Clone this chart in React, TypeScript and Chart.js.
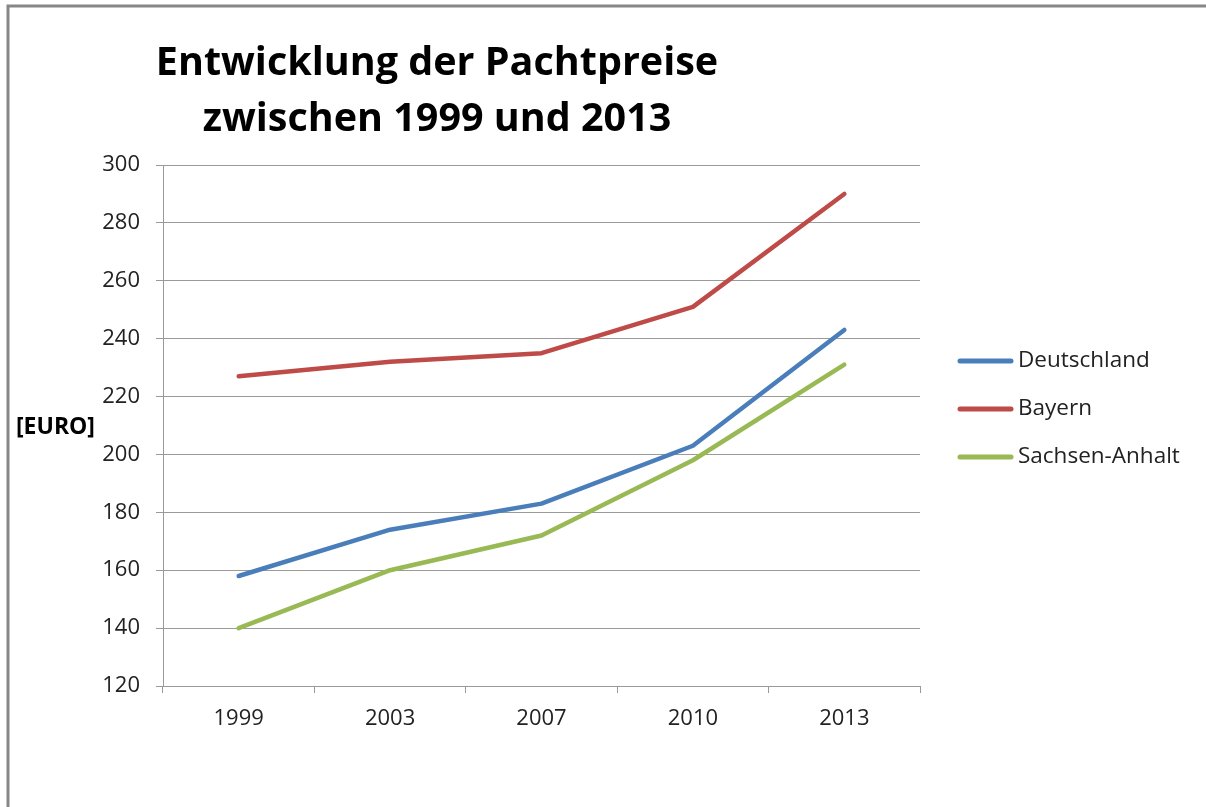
import React, { useEffect, useRef } from "react";
import { Chart, registerables } from "chart.js";

Chart.register(...registerables);

const years = ["1999", "2003", "2007", "2010", "2013"];
const deutschland = [158, 174, 183, 203, 243];
const bayern = [227, 232, 235, 251, 290];
const sachsenAnhalt = [140, 160, 172, 198, 231];
const seriesNames = ["Deutschland", "Bayern", "Sachsen-Anhalt"];
const seriesColors = ["#4A7EBB", "#BE4B48", "#98B954"];
const titleLines = ["Entwicklung der Pachtpreise", "zwischen 1999 und 2013"];
const yAxisTitle = "[EURO]";
const yMin = 120;
const yMax = 300;
const yStep = 20;

const FONT = "'Open Sans', 'DejaVu Sans', sans-serif";
const TEXT = "#222222";
const GRID = "#9a9a9a";

const decorPlugin = {
  id: "decor",
  beforeDraw(chart: any) {
    const ctx = chart.ctx;
    ctx.save();
    ctx.fillStyle = "#ffffff";
    ctx.fillRect(0, 0, chart.width, chart.height);
    ctx.strokeStyle = "#878787";
    ctx.lineWidth = 3;
    ctx.strokeRect(8, 6, chart.width + 50, chart.height + 50);
    ctx.restore();
  },
  afterDraw(chart: any) {
    const ctx = chart.ctx;
    ctx.save();
    // title
    ctx.fillStyle = "#000000";
    ctx.font = `bold 39.5px ${FONT}`;
    ctx.textAlign = "center";
    ctx.textBaseline = "alphabetic";
    titleLines.forEach((t, i) => ctx.fillText(t, 437, 75 + i * 56));
    // y axis title
    ctx.font = `bold 23px ${FONT}`;
    ctx.textAlign = "left";
    ctx.textBaseline = "middle";
    ctx.fillText(yAxisTitle, 16, 427);
    // legend
    ctx.font = `22.5px ${FONT}`;
    chart.data.datasets.forEach((ds: any, i: number) => {
      const y = 361 + i * 48;
      ctx.strokeStyle = ds.borderColor;
      ctx.lineWidth = 5;
      ctx.lineCap = "round";
      ctx.beginPath();
      ctx.moveTo(960, y);
      ctx.lineTo(1011, y);
      ctx.stroke();
      ctx.fillStyle = TEXT;
      ctx.textBaseline = "middle";
      ctx.fillText(ds.label, 1018, y);
    });
    ctx.restore();
  },
};

export default function App() {
  const ref = useRef<HTMLCanvasElement | null>(null);
  useEffect(() => {
    if (!ref.current) return;
    const series = [deutschland, bayern, sachsenAnhalt];
    const chart = new Chart(ref.current, {
      type: "line",
      data: {
        labels: years,
        datasets: series.map((d, i) => ({
          label: seriesNames[i],
          data: d,
          borderColor: seriesColors[i],
          backgroundColor: seriesColors[i],
          borderWidth: 4.5,
          borderCapStyle: "round",
          borderJoinStyle: "round",
          pointRadius: 0,
          tension: 0,
          fill: false,
        })),
      },
      options: {
        animation: false,
        responsive: true,
        maintainAspectRatio: false,
        layout: { padding: { top: 165, right: 286, left: 0, bottom: 0 } },
        plugins: {
          legend: { display: false },
          title: { display: false },
          tooltip: { enabled: false },
        },
        scales: {
          x: {
            type: "category",
            offset: true,
            grid: {
              offset: true,
              drawOnChartArea: false,
              drawTicks: true,
              tickLength: 7,
              color: GRID,
              lineWidth: 1,
            },
            border: { display: true, color: GRID, width: 1 },
            ticks: {
              color: TEXT,
              font: { family: FONT, size: 22 },
              padding: 13,
              maxRotation: 0,
            },
            afterFit: (s: any) => {
              s.height = 121;
            },
          },
          y: {
            min: yMin,
            max: yMax,
            ticks: {
              stepSize: yStep,
              color: TEXT,
              font: { family: FONT, size: 22 },
              padding: 16,
            },
            grid: {
              color: GRID,
              lineWidth: 1,
              tickLength: 7,
              drawTicks: true,
            },
            border: { display: true, color: GRID, width: 1 },
            afterFit: (s: any) => {
              s.width = 163;
            },
          },
        },
      },
      plugins: [decorPlugin],
    } as any);
    return () => chart.destroy();
  }, []);
  return (
    <div style={{ position: "fixed", left: 0, top: 0, width: 1206, height: 807, background: "#fff" }}>
      <canvas ref={ref} />
    </div>
  );
}
